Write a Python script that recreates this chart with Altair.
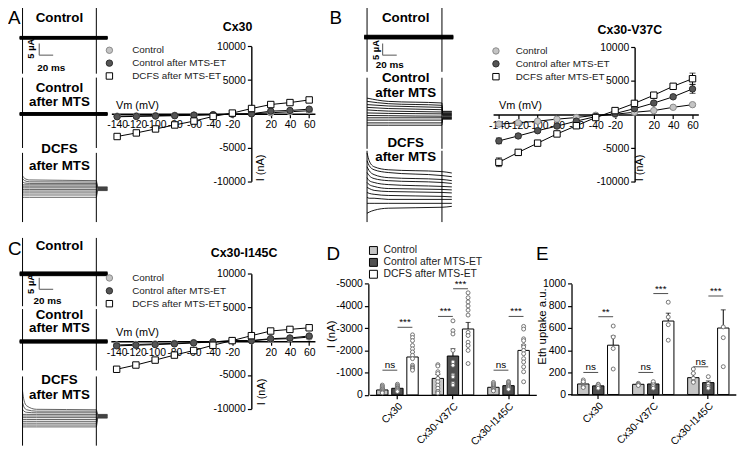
import altair as alt
import pandas as pd

W, H = 737, 443
FONT = "Liberation Sans"

# ---------------- I-V curves (nA) ----------------
VM = [-140, -120, -100, -80, -60, -40, -20, 0, 20, 40, 60]
VM_TICKS = [-140, -120, -100, -80, -60, -40, -20, 20, 40, 60]
I_TICKS = [-10000, -5000, 5000, 10000]
SERIES = ["Control", "Control after MTS-ET", "DCFS after MTS-ET"]

IV_A_CTRL = [-350, -310, -270, -230, -180, -120, -60, 0, 150, 300, 450]
IV_A_MTS = [-440, -390, -340, -290, -220, -150, -50, 0, 390, 490, 680]
IV_A_DCFS = [-3370, -2840, -2250, -1660, -1080, -390, 100, 780, 1370, 1660, 2050]

IV_B_CTRL = [-1420, -1220, -980, -680, -440, -100, 50, 340, 590, 1080, 1470]
IV_B_MTS = [-3910, -3180, -2400, -1710, -980, -290, 150, 880, 1710, 2640, 3810]
IV_B_DCFS = [-7090, -5620, -4250, -2880, -1660, -440, 590, 1660, 2880, 4200, 5330]
SEM_B_CTRL = [150, 130, 120, 100, 80, 60, 50, 60, 80, 120, 150]
SEM_B_MTS = [420, 300, 250, 200, 150, 100, 80, 150, 200, 250, 650]
SEM_B_DCFS = [650, 400, 300, 250, 200, 150, 150, 250, 300, 400, 830]

IV_C_CTRL = [-550, -470, -390, -310, -200, -80, 60, 80, 300, 390, 620]
IV_C_MTS = [-680, -590, -490, -390, -240, -100, 100, 100, 390, 490, 780]
IV_C_DCFS = [-4150, -3520, -2790, -2050, -1370, -590, 100, 830, 1520, 1760, 2000]

# ---------------- current traces (uA vs ms) ----------------
PULSE_MS = 106
SPIKE_T = [0, 106]
FLAT_T = [-4, 122]
A_CTRL_LEVELS = [0.6, 0.45, 0.3, 0.2, 0.1, 0.0, -0.1, -0.2, -0.3, -0.45, -0.6]
A_MTS_LEVELS = [0.6, 0.45, 0.3, 0.2, 0.1, 0.0, -0.1, -0.2, -0.3, -0.45, -0.6]
B_CTRL_LEVELS = [0.8, 0.6, 0.4, 0.25, 0.1, 0.0, -0.1, -0.25, -0.4, -0.6, -0.8]
C_CTRL_LEVELS = [0.8, 0.6, 0.4, 0.25, 0.1, 0.0, -0.1, -0.25, -0.4, -0.6, -0.8]
C_MTS_LEVELS = [0.7, 0.5, 0.35, 0.2, 0.1, 0.0, -0.1, -0.2, -0.35, -0.5, -0.7]

A_DCFS_T = [0, 3, 10, 106, 108, 122]
A_DCFS = [
    [5.5, 4.5, 3.8, 3.5, 0.8, 0.8],
    [4.3, 3.5, 3.0, 2.9, 0.6, 0.6],
    [3.0, 2.5, 2.3, 2.3, 0.5, 0.5],
    [1.7, 1.7, 1.7, 1.7, 0.3, 0.3],
    [1.1, 1.1, 1.1, 1.1, 0.2, 0.2],
    [0.4, 0.4, 0.4, 0.4, 0.0, 0.0],
    [-0.3, -0.3, -0.3, -0.3, -0.2, -0.2],
    [-1.0, -1.0, -1.0, -1.0, -0.3, -0.3],
    [-1.8, -1.8, -1.8, -1.8, -0.5, -0.5],
    [-2.7, -2.7, -2.7, -2.7, -0.6, -0.6],
    [-3.7, -3.7, -3.7, -3.7, -0.8, -0.8],
]
C_DCFS_T = [0, 2, 6, 20, 106, 108, 122]
C_DCFS = [
    [10.8, 7.0, 4.5, 3.0, 2.8, 0.8, 0.8],
    [6.0, 4.0, 2.8, 2.2, 2.2, 0.6, 0.6],
    [3.0, 2.2, 1.7, 1.5, 1.5, 0.5, 0.5],
    [0.8, 0.8, 0.8, 0.8, 0.8, 0.3, 0.3],
    [0.1, 0.1, 0.1, 0.1, 0.1, 0.2, 0.2],
    [-0.6, -0.6, -0.6, -0.6, -0.6, 0.0, 0.0],
    [-1.4, -1.4, -1.4, -1.4, -1.4, -0.2, -0.2],
    [-2.2, -2.2, -2.2, -2.2, -2.2, -0.3, -0.3],
    [-3.0, -3.0, -3.0, -3.0, -3.0, -0.5, -0.5],
    [-3.8, -3.8, -3.8, -3.8, -3.8, -0.6, -0.6],
    [-4.6, -4.6, -4.6, -4.6, -4.6, -0.8, -0.8],
]
B_MTS_T = [0, 30, 106, 107, 120]
B_MTS = [
    [7.4, 6.0, 5.3, 1.7, 1.7],
    [6.0, 5.0, 4.3, 1.4, 1.4],
    [4.6, 4.0, 3.4, 1.0, 1.0],
    [3.4, 2.9, 2.4, 0.7, 0.7],
    [2.3, 1.8, 1.4, 0.3, 0.3],
    [1.0, 0.8, 0.6, 0.0, 0.0],
    [-0.1, -0.2, -0.4, -0.3, -0.3],
    [-1.1, -1.1, -1.1, -0.7, -0.7],
    [-2.1, -2.1, -2.1, -1.0, -1.0],
    [-3.3, -3.3, -3.3, -1.4, -1.4],
    [-4.3, -4.3, -4.3, -1.7, -1.7],
]
B_DCFS_T = [0, 3, 10, 30, 106, 120]
B_DCFS = [
    [20.5, 17.1, 14.5, 13.2, 12.4, 11.8],
    [17.1, 15.0, 13.2, 12.0, 10.7, 10.2],
    [14.5, 12.8, 11.1, 9.8, 9.0, 8.5],
    [12.0, 10.7, 9.4, 8.5, 7.7, 7.3],
    [9.8, 8.5, 7.7, 6.8, 6.0, 5.8],
    [7.7, 6.8, 6.0, 5.1, 4.7, 4.5],
    [5.6, 5.1, 4.3, 3.8, 3.4, 3.2],
    [3.4, 3.0, 2.6, 2.1, 1.7, 1.5],
    [1.3, 0.9, 0.9, 0.4, 0.4, 0.4],
    [-1.3, -1.3, -1.3, -1.3, -1.3, -1.3],
    [-5.6, -5.1, -4.3, -3.4, -3.0, -2.6],
]
# capacitive spikes: (top, bottom) in uA for the three blocks of each column
A_SPIKES = [(15.3, -15.5), (15.7, -14.7), (15.5, -14.4)]
B_SPIKES = [(15.0, -15.0), (16.2, -14.5), (21.4, -9.4)]
C_SPIKES = [(15.5, -14.0), (14.0, -12.5), (17.2, -12.7)]
SCALEBAR_UA = 5
SCALEBAR_MS = 20

# ---------------- bar charts ----------------
GROUPS = ["Cx30", "Cx30-V37C", "Cx30-I145C"]
SLOTS = ["Control", "m1", "Control after MTS-ET", "m2", "DCFS after MTS-ET"]
SIG_GROUP = ["Cx30", "Cx30", "Cx30-V37C", "Cx30-V37C", "Cx30-I145C", "Cx30-I145C"]
SIG_SLOT = ["m1", "m2", "m1", "m2", "m1", "m2"]

D_MEANS = [[-222, -296, -1704], [-741, -1748, -2963], [-341, -415, -2000]]
D_SEMS = [[60, 50, 222], [178, 326, 296], [50, 45, 252]]
D_DOTS_CX30 = [
    [-440, -380, -330, -280, -250, -200, -160, -120, -90],
    [-480, -420, -380, -330, -300, -270, -230, -200, -150],
    [-2700, -2580, -2440, -2220, -2070, -1930, -1780, -1630, -1330, -1260, -1210, -1180, -1110],
]
D_DOTS_V37C = [
    [-1360, -1300, -1040, -960, -740, -590, -440, -300, -150, -150, -80],
    [-3330, -2890, -2740, -2000, -1480, -1330, -890, -810, -520, -440],
    [-4590, -4370, -4180, -4000, -3810, -3590, -2810, -2670, -2370, -2220, -2000, -1410],
]
D_DOTS_I145C = [
    [-560, -500, -450, -400, -350, -300, -280, -250, -200, -180],
    [-600, -560, -500, -450, -420, -380, -350, -300, -250],
    [-3080, -2960, -2520, -2440, -2220, -2150, -2000, -1850, -1630, -1480, -1260, -1040, -590],
]
D_SIG_LEVEL = [-1111, -3040, -3529, -4773, -1111, -3529]
D_SIG_LABEL = ["ns", "***", "***", "***", "ns", "***"]
D_TICKS = [0, -1000, -2000, -3000, -4000, -5000]

E_MEANS = [[95, 78, 445], [92, 95, 663], [152, 107, 600]]
E_SEMS = [[15, 8, 83], [8, 12, 71], [39, 15, 164]]
E_DOTS_CX30 = [[131, 116, 72, 63], [93, 87, 72, 57], [618, 519, 415, 230]]
E_DOTS_V37C = [[101, 92, 87, 81], [116, 87, 72, 57], [833, 699, 630, 490]]
E_DOTS_I145C = [[230, 191, 146, 116, 110], [161, 95, 72, 57], [610, 513, 251]]
E_SIG_LEVEL = [199, 702, 199, 911, 250, 889]
E_SIG_LABEL = ["ns", "**", "ns", "***", "ns", "***"]
E_TICKS = [0, 200, 400, 600, 800, 1000]

IV_FILLS = ["#c4c4c4", "#555555", "#ffffff"]
IV_STROKES = ["#8a8a8a", "#2e2e2e", "#000000"]
IV_SHAPES = ["circle", "circle", "square"]
BAR_FILLS = ["#c6c6c6", "#505050", "#ffffff"]


def lin(domain, rng):
    return alt.Scale(domain=domain, range=rng, nice=False, zero=False)


def trace_block(times, traces, x_rng, hold, spike, color="black", sw=1.0,
                interp="linear", bar=None):
    xs = lin([0, PULSE_MS], x_rng)
    ys = lin([-15, 15], [hold + 35.1, hold - 35.1])

    def X(f):
        return alt.X(f"{f}:Q", scale=xs, axis=None)

    def Y(f):
        return alt.Y(f"{f}:Q", scale=ys, axis=None)

    df = pd.DataFrame([{"trace": k, "t": t, "i": v}
                       for k, vals in enumerate(traces) for t, v in zip(times, vals)])
    layers = [alt.Chart(df).mark_line(color=color, strokeWidth=sw, interpolate=interp)
              .encode(x=X("t"), y=Y("i"), detail="trace:N")]
    sp = pd.DataFrame({"t": SPIKE_T, "top": [spike[0]] * 2, "bot": [spike[1]] * 2})
    layers.append(alt.Chart(sp).mark_rule(color="black", strokeWidth=1)
                  .encode(x=X("t"), y=Y("top"), y2=alt.Y2("bot")))
    if bar is not None:
        bx, by = bar
        sb = pd.DataFrame({"t": [bx, bx], "t2": [bx, bx + SCALEBAR_MS],
                           "i": [by + SCALEBAR_UA, by], "i2": [by, by]})
        layers.append(alt.Chart(sb).mark_rule(color="#707070", strokeWidth=1.2)
                      .encode(x=X("t"), x2=alt.X2("t2"), y=Y("i"), y2=alt.Y2("i2")))
    return alt.layer(*layers)


def flat(levels):
    return [[lv for _ in FLAT_T] for lv in levels]


def iv_panel(ctrl, mts, dcfs, x_rng, y_rng, x_off, y_off, vm_xy, i_xy, leg_xy,
             label_offset, sems=None):
    rows = []
    for si, (s, vals) in enumerate(zip(SERIES, [ctrl, mts, dcfs])):
        for k, (v, i) in enumerate(zip(VM, vals)):
            r = {"series": s, "vm": v, "i": i}
            if sems is not None:
                r["lo"] = i - sems[si][k]
                r["hi"] = i + sems[si][k]
            rows.append(r)
    df = pd.DataFrame(rows)
    xs = lin([-146, 66], x_rng)
    ys = lin([-10000, 10000], y_rng)
    common = dict(domainColor="black", domainWidth=1.4, tickColor="black", tickWidth=1.2,
                  tickSize=4, labelColor="black", labelFontSize=10.5, labelPadding=2,
                  labelFlush=False, labelOverlap=False, grid=False,
                  labelExpr="'' + datum.value", titleFontWeight="normal", titleFontSize=11,
                  titleColor="black", titleAlign="center", titleBaseline="middle")
    xaxis = alt.Axis(orient="bottom", offset=x_off, values=VM_TICKS, title="Vm (mV)",
                     titleX=vm_xy[0], titleY=vm_xy[1], titleAngle=0, **common)
    yaxis = alt.Axis(orient="left", offset=y_off, values=I_TICKS, title="I (nA)",
                     titleX=i_xy[0], titleY=i_xy[1], titleAngle=270, **common)

    def X(f):
        return alt.X(f"{f}:Q", scale=xs, axis=xaxis)

    def Y(f):
        return alt.Y(f"{f}:Q", scale=ys, axis=yaxis)

    leg = alt.Legend(orient="none", legendX=leg_xy[0], legendY=leg_xy[1], title=None,
                     labelFontSize=10, labelFont=FONT, labelColor="#222222", symbolSize=42,
                     symbolStrokeWidth=1, labelOffset=label_offset, rowPadding=1, padding=0,
                     labelLimit=300)
    layers = [alt.Chart(df).mark_line(color="black", strokeWidth=1)
              .encode(x=X("vm"), y=Y("i"), detail="series:N")]
    if sems is not None:
        layers.append(alt.Chart(df).mark_rule(color="black", strokeWidth=1)
                      .encode(x=X("vm"), y=Y("lo"), y2=alt.Y2("hi"), detail="series:N"))
        for f in ["lo", "hi"]:
            layers.append(alt.Chart(df).mark_tick(orient="horizontal", size=6, thickness=1,
                                                  color="black")
                          .encode(x=X("vm"), y=Y(f)))
    layers.append(
        alt.Chart(df).mark_point(filled=True, size=42, strokeWidth=1, opacity=1).encode(
            x=X("vm"), y=Y("i"),
            fill=alt.Fill("series:N", scale=alt.Scale(domain=SERIES, range=IV_FILLS), legend=leg),
            stroke=alt.Stroke("series:N", scale=alt.Scale(domain=SERIES, range=IV_STROKES), legend=leg),
            shape=alt.Shape("series:N", scale=alt.Scale(domain=SERIES, range=IV_SHAPES), legend=leg),
        ))
    return alt.layer(*layers)


def bar_panel(means, sems, dots, sig_levels, sig_labels, x_rng, y_dom, y_rng,
              x_off, y_off, y_ticks, y_title, t_xy, legend):
    sign = -1 if y_dom[1] < 0 else 1
    bars = pd.DataFrame([{"group": g, "slot": s, "mean": m, "top": m + sign * e}
                         for g, mv, sv in zip(GROUPS, means, sems)
                         for s, m, e in zip(SERIES, mv, sv)])
    pts = pd.DataFrame([{"group": g, "slot": s, "v": v}
                        for g, dv in zip(GROUPS, dots)
                        for s, vals in zip(SERIES, dv) for v in vals])
    sig = pd.DataFrame({"group": SIG_GROUP, "slot": SIG_SLOT,
                        "level": sig_levels, "label": sig_labels})
    xs = alt.Scale(domain=GROUPS, range=x_rng, paddingInner=0.32, paddingOuter=0.16)
    xo = alt.Scale(domain=SLOTS, paddingInner=0, paddingOuter=0)
    ys = alt.Scale(domain=y_dom, range=y_rng, nice=False, zero=False)
    common = dict(domainColor="black", domainWidth=1.3, tickColor="black", tickWidth=1.2,
                  tickSize=4, labelColor="black", labelFontSize=10.5, labelPadding=2,
                  grid=False, labelOverlap=False)
    xaxis = alt.Axis(orient="bottom", offset=x_off, title=None, labelAngle=315, **common)
    yaxis = alt.Axis(orient="left", offset=y_off, values=y_ticks, labelExpr="'' + datum.value",
                     title=y_title, titleX=t_xy[0], titleY=t_xy[1], titleAngle=270,
                     titleAlign="center", titleBaseline="middle", titleFontWeight="normal",
                     titleFontSize=11.5, titleColor="black", labelFlush=False, **common)
    X = alt.X("group:N", scale=xs, axis=xaxis)

    def XO():
        return alt.XOffset("slot:N", scale=xo)

    def Y(f):
        return alt.Y(f"{f}:Q", scale=ys, axis=yaxis)

    fill = alt.Fill("slot:N", scale=alt.Scale(domain=SERIES, range=BAR_FILLS),
                    legend=legend if legend is not None else None)
    layers = [
        alt.Chart(bars).mark_bar(width=11.5, stroke="black", strokeWidth=1)
        .encode(x=X, xOffset=XO(), y=Y("mean"), y2=alt.datum(0), fill=fill),
        alt.Chart(bars).mark_rule(color="black", strokeWidth=1)
        .encode(x=X, xOffset=XO(), y=Y("mean"), y2=alt.Y2("top")),
        alt.Chart(bars).mark_tick(orient="horizontal", size=5, thickness=1, color="black")
        .encode(x=X, xOffset=XO(), y=Y("top")),
        alt.Chart(pts).mark_point(shape="circle", size=16, filled=True, fill="white",
                                  stroke="#666666", strokeWidth=0.9, opacity=1)
        .encode(x=X, xOffset=XO(), y=Y("v")),
        alt.Chart(sig).mark_tick(orient="horizontal", size=15, thickness=1, color="black")
        .encode(x=X, xOffset=XO(), y=Y("level")),
        alt.Chart(sig).mark_text(fontSize=10, dy=-2, baseline="alphabetic", color="black", font=FONT)
        .encode(x=X, xOffset=XO(), y=Y("level"), text="label:N"),
    ]
    return alt.layer(*layers)


def txt(s, x, y, size, bold=False, angle=0, align="center", baseline="middle"):
    return alt.Chart().mark_text(
        fontSize=size, fontWeight="bold" if bold else "normal", angle=angle,
        align=align, baseline=baseline, color="black", font=FONT
    ).encode(x=alt.value(x), y=alt.value(y), text=alt.value(s))


AX = [14.7, 89.3]
BX = [363.0, 438.7]
panels = [
    trace_block(FLAT_T, flat(A_CTRL_LEVELS), AX, 27.7, A_SPIKES[0], bar=(24, -7.5)),
    trace_block(FLAT_T, flat(A_MTS_LEVELS), AX, 104.7, A_SPIKES[1]),
    trace_block(A_DCFS_T, A_DCFS, AX, 180.3, A_SPIKES[2], color="#3a3a3a", sw=0.8,
                interp="monotone"),
    trace_block(FLAT_T, flat(B_CTRL_LEVELS), BX, 27.0, B_SPIKES[0], bar=(22, -7.8)),
    trace_block(B_MTS_T, B_MTS, BX, 106.0, B_SPIKES[1], sw=0.9, interp="monotone"),
    trace_block(B_DCFS_T, B_DCFS, BX, 192.0, B_SPIKES[2], sw=0.9, interp="monotone"),
    trace_block(FLAT_T, flat(C_CTRL_LEVELS), AX, 266.3, C_SPIKES[0], bar=(24, -6.7)),
    trace_block(FLAT_T, flat(C_MTS_LEVELS), AX, 334.7, C_SPIKES[1]),
    trace_block(C_DCFS_T, C_DCFS, AX, 410.3, C_SPIKES[2], color="#3a3a3a", sw=0.8,
                interp="monotone"),
    iv_panel(IV_A_CTRL, IV_A_MTS, IV_A_DCFS, [104.5, 310.3], [172.7, 36.3],
             104.5 - H, -246, (130.3, -8.4), (9.3, 158.7), (97.5, 35.3), 18),
    iv_panel(IV_B_CTRL, IV_B_MTS, IV_B_DCFS, [490.4, 697.9], [173.3, 37.3],
             105.3 - H, -633.5, (517.5, -8.7), (5.0, 158.7), (488.3, 36.0), 15,
             sems=[SEM_B_CTRL, SEM_B_MTS, SEM_B_DCFS]),
    iv_panel(IV_C_CTRL, IV_C_MTS, IV_C_DCFS, [104.0, 310.3], [402.7, 266.3],
             334.5 - H, -246, (130.3, -8.4), (10.7, 385.3), (97.5, 265.5), 18),
    bar_panel(D_MEANS, D_SEMS, [D_DOTS_CX30, D_DOTS_V37C, D_DOTS_I145C], D_SIG_LEVEL,
              D_SIG_LABEL, [365.6, 534.1], [0, -5000], [388.7, 276.3], 388.7 - H, -364.3,
              D_TICKS, "I (nA)", (-37.3, 327),
              alt.Legend(orient="none", legendX=364.2, legendY=237.5, title=None,
                         labelFontSize=10.5, labelFont=FONT, labelColor="#222222",
                         symbolType="square", symbolSize=64, symbolStrokeColor="black",
                         symbolStrokeWidth=1, labelOffset=5, rowPadding=-1, padding=0,
                         labelLimit=300)),
    bar_panel(E_MEANS, E_SEMS, [E_DOTS_CX30, E_DOTS_V37C, E_DOTS_I145C], E_SIG_LEVEL,
              E_SIG_LABEL, [568.9, 735.8], [0, 1000], [388.3, 276.3], 388.3 - H, -569.7,
              E_TICKS, "Eth uptake a.u.", (-29.7, 319), None),
]

LBL = 13.5
texts = [
    txt("A", 0, 13.7, 19, align="left", baseline="alphabetic"),
    txt("B", 325, 13.7, 19, align="left", baseline="alphabetic"),
    txt("C", 0, 247, 19, align="left", baseline="alphabetic"),
    txt("D", 322, 252.7, 19, align="left", baseline="alphabetic"),
    txt("E", 533.7, 252.7, 19, align="left", baseline="alphabetic"),
    txt("Control", 52, 7.5, LBL, True),
    txt("Control", 52, 78, LBL, True), txt("after MTS", 52, 92.5, LBL, True),
    txt("DCFS", 52, 140.3, LBL, True), txt("after MTS", 52, 157, LBL, True),
    txt("Control", 402, 7.5, LBL, True),
    txt("Control", 402, 68.7, LBL, True), txt("after MTS", 402, 83.2, LBL, True),
    txt("DCFS", 402, 133.7, LBL, True), txt("after MTS", 402, 148.2, LBL, True),
    txt("Control", 52, 238.7, LBL, True),
    txt("Control", 52, 307.5, LBL, True), txt("after MTS", 52, 321.5, LBL, True),
    txt("DCFS", 52, 373.7, LBL, True), txt("after MTS", 52, 388.7, LBL, True),
    txt("5 µA", 23.7, 38.7, 9.5, True, angle=270),
    txt("20 ms", 43.7, 58, 10, True),
    txt("5 µA", 372, 40, 9.5, True, angle=270),
    txt("20 ms", 386, 55.3, 10, True),
    txt("5 µA", 23.7, 276.5, 9.5, True, angle=270),
    txt("20 ms", 40, 294.3, 10, True),
    txt("Cx30", 232, 17, 12.5, True),
    txt("Cx30-V37C", 628.7, 20.3, 12.5, True),
    txt("Cx30-I145C", 238.7, 245.3, 12.5, True),
]

chart = alt.layer(*panels, *texts).resolve_scale(
    x="independent", y="independent", xOffset="independent",
    fill="independent", stroke="independent", shape="independent",
).resolve_axis(x="independent", y="independent").resolve_legend(
    fill="independent", stroke="independent", shape="independent",
).properties(
    width=W, height=H, autosize=alt.AutoSizeParams(type="none"), padding=0,
).configure(font=FONT, background="white").configure_view(stroke=None)

chart.save("out.html", embed_options={"renderer": "svg", "actions": False})
